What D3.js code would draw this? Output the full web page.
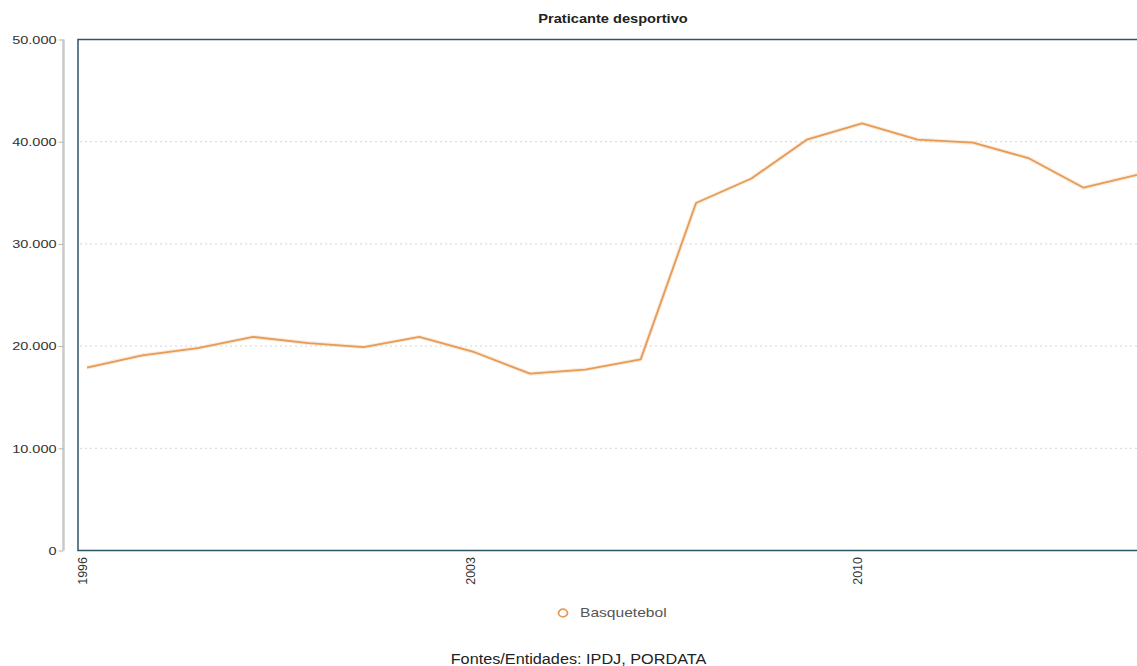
<!DOCTYPE html>
<html>
<head>
<meta charset="utf-8">
<script src="https://cdn.jsdelivr.net/npm/d3@7"></script>
<style>
  html, body { margin: 0; padding: 0; background: #ffffff; overflow: hidden; }
  svg { display: block; font-family: Arial, "Liberation Sans", sans-serif; }
</style>
</head>
<body>
<svg id="chart" width="1137" height="666"></svg>
<script>
// Praticantes desportivos federados — Basquetebol
const years = ["1996","1997","1998","1999","2000","2001","2002","2003","2004","2005",
               "2006","2007","2008","2009","2010","2011","2012","2013","2014","2015"];
const basquetebol = [17900, 19100, 19800, 20900, 20300, 19900, 20900, 19400, 17300, 17700,
                     18700, 34000, 36400, 40200, 41800, 40200, 39900, 38400, 35500, 36800];
const xTickLabels = ["1996", "2003", "2010"];
const yTickValues = [0, 10000, 20000, 30000, 40000, 50000];
const seriesName = "Basquetebol";
const chartTitle = "Praticante desportivo";
const sourceNote = "Fontes/Entidades: IPDJ, PORDATA";

const svg = d3.select("#chart");

const frame = { left: 78, top: 39.5, bottom: 550.5, right: 1150 };
const lineColor = "#e69b57";

const pt = d3.formatLocale({ decimal: ",", thousands: ".", grouping: [3], currency: ["", "€"] });
const fmt = pt.format(",");

const x = d3.scalePoint().domain(years).range([87, 1139]);
const y = d3.scaleLinear().domain([0, 50000]).range([frame.bottom, frame.top]);

// plot frame background
svg.append("rect")
  .attr("x", frame.left).attr("y", frame.top)
  .attr("width", frame.right - frame.left).attr("height", frame.bottom - frame.top)
  .attr("fill", "#ffffff");

// dotted horizontal gridlines
svg.append("g")
  .selectAll("line")
  .data(yTickValues.filter(v => v > 0 && v < 50000))
  .join("line")
  .attr("x1", frame.left + 2).attr("x2", frame.right)
  .attr("y1", d => y(d)).attr("y2", d => y(d))
  .attr("stroke", "#d6d6d6")
  .attr("stroke-width", 1)
  .attr("stroke-dasharray", "2,3");

svg.append("rect")
  .attr("x", frame.left).attr("y", frame.top)
  .attr("width", frame.right - frame.left).attr("height", frame.bottom - frame.top)
  .attr("fill", "none")
  .attr("stroke", "#2e5467")
  .attr("stroke-width", 1.5);

// detached grey y axis
const yAxis = svg.append("g").attr("transform", "translate(63.5,0)")
  .call(d3.axisLeft(y).tickValues(yTickValues).tickSize(5).tickPadding(4).tickFormat(fmt));
yAxis.select(".domain").attr("stroke", "#c9c9c9").attr("stroke-width", 2.5)
  .attr("d", `M0,${frame.top}V${frame.bottom}`);
yAxis.selectAll(".tick line").attr("stroke", "#b5b5b5").attr("stroke-width", 1);
yAxis.selectAll(".tick text")
  .attr("fill", "#333333")
  .attr("font-size", 10.5)
  .attr("x", 0).attr("dy", "0.36em")
  .attr("transform", "translate(-7,0) scale(1.38,1)");

// x axis labels, rotated
const xAxis = svg.append("g").attr("transform", `translate(0,${frame.bottom})`)
  .call(d3.axisBottom(x).tickValues(xTickLabels).tickSize(0));
xAxis.select(".domain").remove();
xAxis.selectAll(".tick text")
  .attr("fill", "#333333")
  .attr("font-size", 12.5)
  .attr("text-anchor", "end")
  .attr("x", 0).attr("y", 0).attr("dy", "0.05em")
  .attr("transform", "translate(-1,6.5) rotate(-90)");

// series line
const line = d3.line()
  .x((d, i) => x(years[i]))
  .y(d => y(d));

svg.append("path")
  .datum(basquetebol)
  .attr("d", line)
  .attr("fill", "none")
  .attr("stroke", "#f6d6b6")
  .attr("stroke-width", 4)
  .attr("stroke-linejoin", "round")
  .attr("opacity", 0.5);

svg.append("path")
  .datum(basquetebol)
  .attr("d", line)
  .attr("fill", "none")
  .attr("stroke", lineColor)
  .attr("stroke-width", 1.8)
  .attr("stroke-linejoin", "round");

// title
svg.append("text")
  .attr("transform", "translate(613,22.5) scale(1.17,1)")
  .attr("text-anchor", "middle")
  .attr("font-size", 12.5)
  .attr("font-weight", "bold")
  .attr("fill", "#222222")
  .text(chartTitle);

// legend
const legend = svg.append("g").attr("transform", "translate(563,613)");
legend.append("ellipse")
  .attr("rx", 4.5).attr("ry", 3.8)
  .attr("fill", "#ffffff")
  .attr("stroke", lineColor)
  .attr("stroke-width", 1.8);
legend.append("text")
  .attr("transform", "translate(17,4.3) scale(1.3,1)")
  .attr("font-size", 12)
  .attr("fill", "#555555")
  .text(seriesName);

// source note
svg.append("text")
  .attr("transform", "translate(578.5,663.5) scale(1.16,1)")
  .attr("text-anchor", "middle")
  .attr("font-size", 14)
  .attr("fill", "#222222")
  .text(sourceNote);
</script>
</body>
</html>
